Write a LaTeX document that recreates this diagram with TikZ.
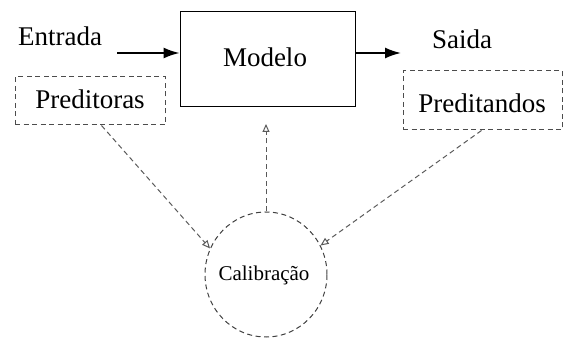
\documentclass[tikz,border=0pt]{standalone}
\usepackage{fontspec}
\setmainfont{Liberation Serif}
\usetikzlibrary{arrows.meta,calc,shapes.geometric}
\begin{document}
\begin{tikzpicture}[x=1pt,y=-1pt,
  lbl/.style={font=\fontsize{27}{29}\selectfont, inner sep=0pt},
  mainbox/.style={draw=black, line width=0.9pt, minimum width=175pt, minimum height=95pt, inner sep=0pt},
  dbox/.style={draw=black!70, dash pattern=on 5pt off 3.5pt, line width=1pt, inner sep=0pt},
  flow/.style={line width=1.8pt, -{Latex[length=16pt,width=11pt]}},
  dflow/.style={draw=black!65, line width=1pt, dash pattern=on 5pt off 3.5pt, -{Triangle[open,length=8pt,width=7pt]}}]
\useasboundingbox (0,0) rectangle (565,347);
\node[mainbox] (modelo) at (267.5,58.5) {};
\node[lbl] (modelotxt) at (265,57) {Modelo};
\node[lbl] (entrada) at (60,36) {Entrada};
\node[lbl] (saida) at (462,39) {Saida};
\node[dbox, minimum width=150pt, minimum height=48pt] (prdt) at (90,101) {};
\node[lbl] (prdttxt) at (90,99) {Preditoras};
\node[dbox, minimum width=159pt, minimum height=59pt] (prdn) at (482.5,100.5) {};
\node[lbl] (prdntxt) at (482,103) {Preditandos};
\node[draw=black!75, dash pattern=on 5pt off 3.5pt, line width=1pt, ellipse, minimum width=122pt, minimum height=125pt, inner sep=0pt] (calib) at (266,274.5) {};
\node[font=\fontsize{21}{23}\selectfont, inner sep=0pt] (calibtxt) at (264,275) {Calibração};
\coordinate (ein) at (117,53);
\coordinate (sout) at (401,53);
\coordinate (vtip) at (265,124);
\draw[flow] (ein) -- (ein -| modelo.west);
\draw[flow] (modelo.east |- sout) -- (sout);
\draw[dflow] (calib.north) -- (calib.north |- vtip);
\draw[dflow] ([xshift=87pt]prdt.south west) -- (calib.155);
\draw[dflow] ([xshift=79pt]prdn.south west) -- (calib.28);
\end{tikzpicture}
\end{document}
